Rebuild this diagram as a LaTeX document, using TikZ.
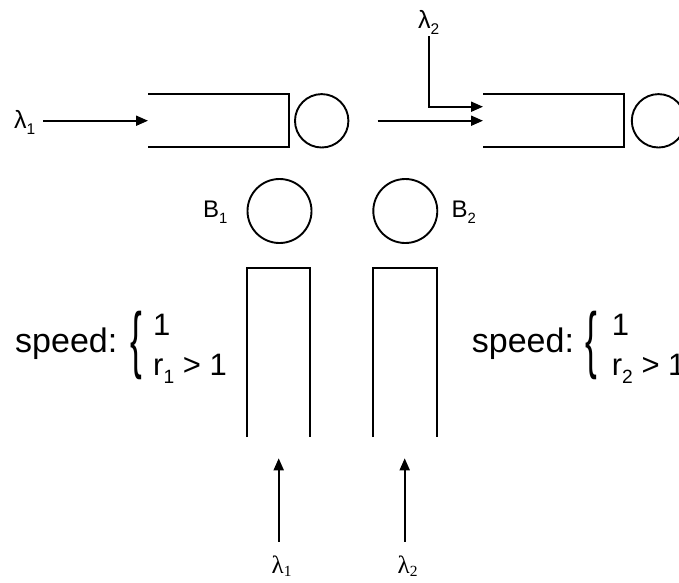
\documentclass[tikz,border=0pt]{standalone}
\usepackage{fontspec}
\setmainfont{Liberation Sans}
\newfontfamily\serifgr{Liberation Serif}
\usetikzlibrary{arrows.meta}
\newcommand{\lowsub}[1]{\raisebox{-0.5ex}{\fontsize{0.62em}{0.62em}\selectfont #1}}
\newcommand{\lowsubs}[1]{\raisebox{-0.3ex}{\fontsize{0.62em}{0.62em}\selectfont #1}}
\tikzset{
  ln/.style={line width=1.9pt},
  arr/.style={line width=1.9pt,-{Triangle[length=12pt,width=10pt]}},
  srv/.style={circle,draw,line width=1.9pt,minimum size=53.4pt,inner sep=0pt},
  buf/.style={circle,draw,line width=1.9pt,minimum size=64pt,inner sep=0pt},
  lab/.style={inner sep=0pt,anchor=base west},
}
\begin{document}
\begin{tikzpicture}[x=1pt,y=-1pt]
\useasboundingbox (0,0) rectangle (679,582);
\clip (0,0) rectangle (679,582);
% top row
\node[lab,font=\fontsize{25}{25}\selectfont] (l1t) at (14,128) {λ\lowsub{1}};
\coordinate (q1in) at (148,120.7);
\draw[arr] (43,120.7) coordinate (l1s) -- (q1in);
\draw[ln] (148,94) -- (289,94) -- (289,147) -- (148,147);
\node[srv] (s1) at (321.7,120.8) {};
\coordinate (a2s) at (377.7,120.7);
\coordinate (q2in) at (483,120.7);
\draw[arr] (a2s) -- (q2in);
\node[lab,font=\fontsize{25}{25}\selectfont] (l2t) at (418,28) {λ\lowsub{2}};
\coordinate (l2s) at (429.3,36);
\coordinate (l2c) at (429.3,106.7);
\coordinate (q2in2) at (483,106.7);
\draw[arr] (l2s) -- (l2c) -- (q2in2);
\draw[ln] (483,94) -- (624,94) -- (624,147) -- (483,147);
\node[srv] (s2) at (658.5,120.8) {};
% buffers
\node[buf] (b1) at (279.5,211) {};
\node[buf] (b2) at (405.3,211) {};
\node[lab,font=\fontsize{24}{24}\selectfont] (b1l) at (203,217) {B\lowsub{1}};
\node[lab,font=\fontsize{24}{24}\selectfont] (b2l) at (451.5,217) {B\lowsub{2}};
% vertical queues
\draw[ln] (247,437) -- (247,268) -- (310,268) -- (310,437);
\draw[ln] (373,437) -- (373,268) -- (436.7,268) -- (436.7,437);
% bottom arrows
\coordinate (u1s) at (278.7,541.7);
\coordinate (u1e) at (278.7,458.3);
\coordinate (u2s) at (404.7,541.7);
\coordinate (u2e) at (404.7,458.3);
\draw[arr] (u1s) -- (u1e);
\draw[arr] (u2s) -- (u2e);
\node[lab,font=\serifgr\fontsize{25}{25}\selectfont] (l1b) at (271.5,573) {λ\lowsubs{1}};
\node[lab,font=\serifgr\fontsize{25}{25}\selectfont] (l2b) at (397.5,573) {λ\lowsubs{2}};
% speed 1
\node[lab,font=\fontsize{34}{34}\selectfont] (sp1) at (15,352) {speed:};
\node[inner sep=0pt,font=\fontsize{32}{32}\selectfont] (br1) at (136.5,345) {\scalebox{1.1}[2.3]{\{}};
\node[lab,font=\fontsize{31}{31}\selectfont] (o1) at (153,335) {1};
\node[lab,font=\fontsize{31}{31}\selectfont] (r1) at (153,375) {r\lowsub{1} > 1};
% speed 2
\node[lab,font=\fontsize{34}{34}\selectfont] (sp2) at (471.7,352) {speed:};
\node[inner sep=0pt,font=\fontsize{32}{32}\selectfont] (br2) at (591,345) {\scalebox{1.1}[2.3]{\{}};
\node[lab,font=\fontsize{31}{31}\selectfont] (o2) at (611.7,335) {1};
\node[lab,font=\fontsize{31}{31}\selectfont] (r2) at (611.7,375) {r\lowsub{2} > 1};
\end{tikzpicture}
\end{document}
